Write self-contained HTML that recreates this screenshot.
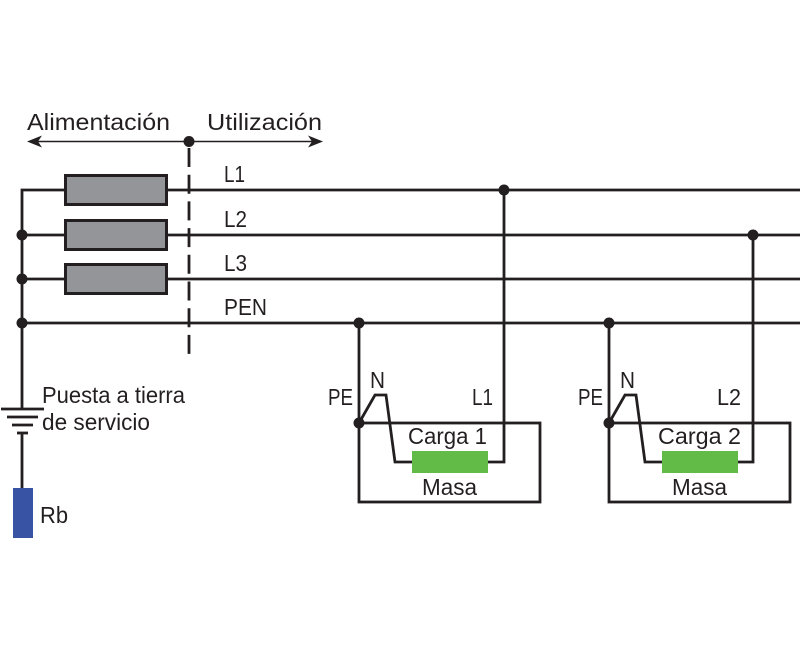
<!DOCTYPE html>
<html><head><meta charset="utf-8"><style>
html,body{margin:0;padding:0;background:#fff;}
svg{display:block;}
text{font-family:"Liberation Sans",sans-serif;font-size:23px;fill:#231f20;}
</style></head><body>
<svg width="800" height="650" viewBox="0 0 800 650" xmlns="http://www.w3.org/2000/svg">
<rect width="800" height="650" fill="#fff"/>
<g stroke="#231f20" fill="none" stroke-width="2.8">
  <!-- bus lines -->
  <polyline points="22,408 22,190 800,190"/>
  <line x1="22" y1="235" x2="800" y2="235"/>
  <line x1="22" y1="279" x2="800" y2="279"/>
  <line x1="22" y1="323" x2="800" y2="323"/>
  <!-- dashed separator -->
  <line x1="189" y1="148" x2="189" y2="356" stroke-dasharray="19,7.7"/>
  <!-- ground symbol -->
  <line x1="1" y1="409" x2="44" y2="409"/>
  <line x1="7" y1="417" x2="38" y2="417"/>
  <line x1="12" y1="425" x2="33" y2="425"/>
  <line x1="17" y1="433" x2="28" y2="433"/>
  <line x1="22" y1="433" x2="22" y2="489"/>
  <!-- load 1 -->
  <line x1="359" y1="323" x2="359" y2="423"/>
  <rect x="359" y="423" width="181" height="79"/>
  <polyline points="359,423 375,395 386,395 395,462 412,462"/>
  <polyline points="488,462 504,462 504,190"/>
  <!-- load 2 -->
  <line x1="609" y1="323" x2="609" y2="423"/>
  <rect x="609" y="423" width="181" height="79"/>
  <polyline points="609,423 625,395 636,395 645,462 662,462"/>
  <polyline points="738,462 753,462 753,235"/>
</g>
<!-- fuses -->
<g fill="#939598" stroke="#231f20" stroke-width="3">
  <rect x="65.5" y="175.5" width="101" height="29"/>
  <rect x="65.5" y="220.5" width="101" height="29"/>
  <rect x="65.5" y="264.5" width="101" height="29"/>
</g>
<!-- arrow -->
<line x1="33" y1="141.5" x2="317" y2="141.5" stroke="#231f20" stroke-width="1.5"/>
<path d="M27,141.5 L42,135.5 L38,141.5 L42,147.5 Z" fill="#231f20"/>
<path d="M323,141.5 L308,135.5 L312,141.5 L308,147.5 Z" fill="#231f20"/>
<!-- dots -->
<g fill="#231f20">
  <circle cx="189" cy="141.5" r="5.5"/>
  <circle cx="22" cy="235" r="5.5"/>
  <circle cx="22" cy="279" r="5.5"/>
  <circle cx="22" cy="323" r="5.5"/>
  <circle cx="504" cy="190" r="5.5"/>
  <circle cx="359" cy="323" r="5.5"/>
  <circle cx="609" cy="323" r="5.5"/>
  <circle cx="753" cy="235" r="5.5"/>
  <circle cx="359" cy="423" r="5.5"/>
  <circle cx="609" cy="423" r="5.5"/>
</g>
<!-- colored elements -->
<rect x="412" y="451" width="76" height="22" fill="#62bb46"/>
<rect x="662" y="451" width="76" height="22" fill="#62bb46"/>
<rect x="13" y="488" width="20" height="50" fill="#3953a4"/>
<!-- texts -->
<text x="27" y="130" textLength="143" lengthAdjust="spacingAndGlyphs">Alimentación</text>
<text x="207" y="130" textLength="115" lengthAdjust="spacingAndGlyphs">Utilización</text>
<text x="224" y="182" textLength="21" lengthAdjust="spacingAndGlyphs">L1</text>
<text x="224" y="227" textLength="23" lengthAdjust="spacingAndGlyphs">L2</text>
<text x="224" y="271" textLength="23" lengthAdjust="spacingAndGlyphs">L3</text>
<text x="224" y="315" textLength="43" lengthAdjust="spacingAndGlyphs">PEN</text>
<text x="42" y="403" textLength="143" lengthAdjust="spacingAndGlyphs">Puesta a tierra</text>
<text x="42" y="430" textLength="108" lengthAdjust="spacingAndGlyphs">de servicio</text>
<text x="40" y="523" textLength="28" lengthAdjust="spacingAndGlyphs">Rb</text>
<text x="328" y="405" textLength="25" lengthAdjust="spacingAndGlyphs">PE</text>
<text x="370" y="388" textLength="15" lengthAdjust="spacingAndGlyphs">N</text>
<text x="472" y="405" textLength="21" lengthAdjust="spacingAndGlyphs">L1</text>
<text x="408" y="444" textLength="79" lengthAdjust="spacingAndGlyphs">Carga 1</text>
<text x="422" y="495" textLength="55" lengthAdjust="spacingAndGlyphs">Masa</text>
<text x="578" y="405" textLength="25" lengthAdjust="spacingAndGlyphs">PE</text>
<text x="620" y="388" textLength="15" lengthAdjust="spacingAndGlyphs">N</text>
<text x="717" y="405" textLength="24" lengthAdjust="spacingAndGlyphs">L2</text>
<text x="658" y="444" textLength="83" lengthAdjust="spacingAndGlyphs">Carga 2</text>
<text x="672" y="495" textLength="55" lengthAdjust="spacingAndGlyphs">Masa</text>
</svg>
</body></html>
